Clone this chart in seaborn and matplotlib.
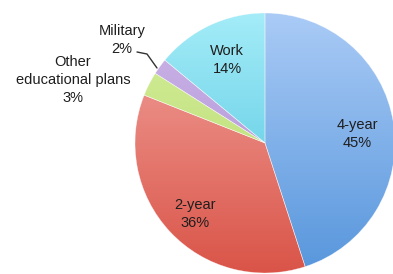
import numpy as np
import matplotlib
matplotlib.use("Agg")
import matplotlib.pyplot as plt
import seaborn as sns
from matplotlib.colors import LinearSegmentedColormap

sns.set_theme(style="white")
plt.rcParams['font.family'] = ['Liberation Sans', 'DejaVu Sans']

# data
categories = ["4-year", "2-year", "Other\neducational plans", "Military", "Work"]
shares = [45, 36, 3, 2, 14]
top_colors = ["#aacbf6", "#f2a6a0", "#d6ef9c", "#cdb6e8", "#a4ecf8"]
bottom_colors = ["#5796dc", "#da5448", "#b2d86a", "#a98bd2", "#46c0dc"]

W, H = 393, 274
fig = plt.figure(figsize=(W / 100, H / 100), dpi=100)
ax = fig.add_axes([0, 0, 1, 1])

cx, cy, r = 265, H - 143, 130
wedges, _ = ax.pie(shares, startangle=90, counterclock=False, radius=r,
                   center=(cx, cy), frame=True,
                   wedgeprops=dict(edgecolor=(1, 1, 1, 0.6), linewidth=0.4))
ax.set_xlim(0, W)
ax.set_ylim(0, H)
ax.set_aspect("equal")
ax.axis("off")

# vertical light-to-dark fill per slice
grad = np.linspace(0, 1, 256).reshape(-1, 1)
for w, c0, c1 in zip(wedges, top_colors, bottom_colors):
    cmap = LinearSegmentedColormap.from_list("g", [c0, c1])
    w.set_facecolor("none")
    im = ax.imshow(grad, cmap=cmap, aspect="auto", origin="upper",
                   extent=(cx - r, cx + r, cy - r, cy + r), zorder=0.5)
    im.set_clip_path(w)

# labels
def lab(i):
    return f"{categories[i]}\n{shares[i]}%"

fs = 10.5
kw = dict(ha="center", va="center", fontsize=fs, color="#1e1e1e", linespacing=1.4)
ax.text(357, H - 134, lab(0), **kw)
ax.text(195, H - 214, lab(1), **kw)
ax.text(73, H - 80, lab(2), **kw)
ax.text(122, H - 40, lab(3), **kw)
ax.text(227, H - 60, lab(4), **kw)
ax.plot([137, 147, 157], [H - 52, H - 54, H - 68], color="#333333", lw=1.0)

fig.savefig("out.png", dpi=100)
